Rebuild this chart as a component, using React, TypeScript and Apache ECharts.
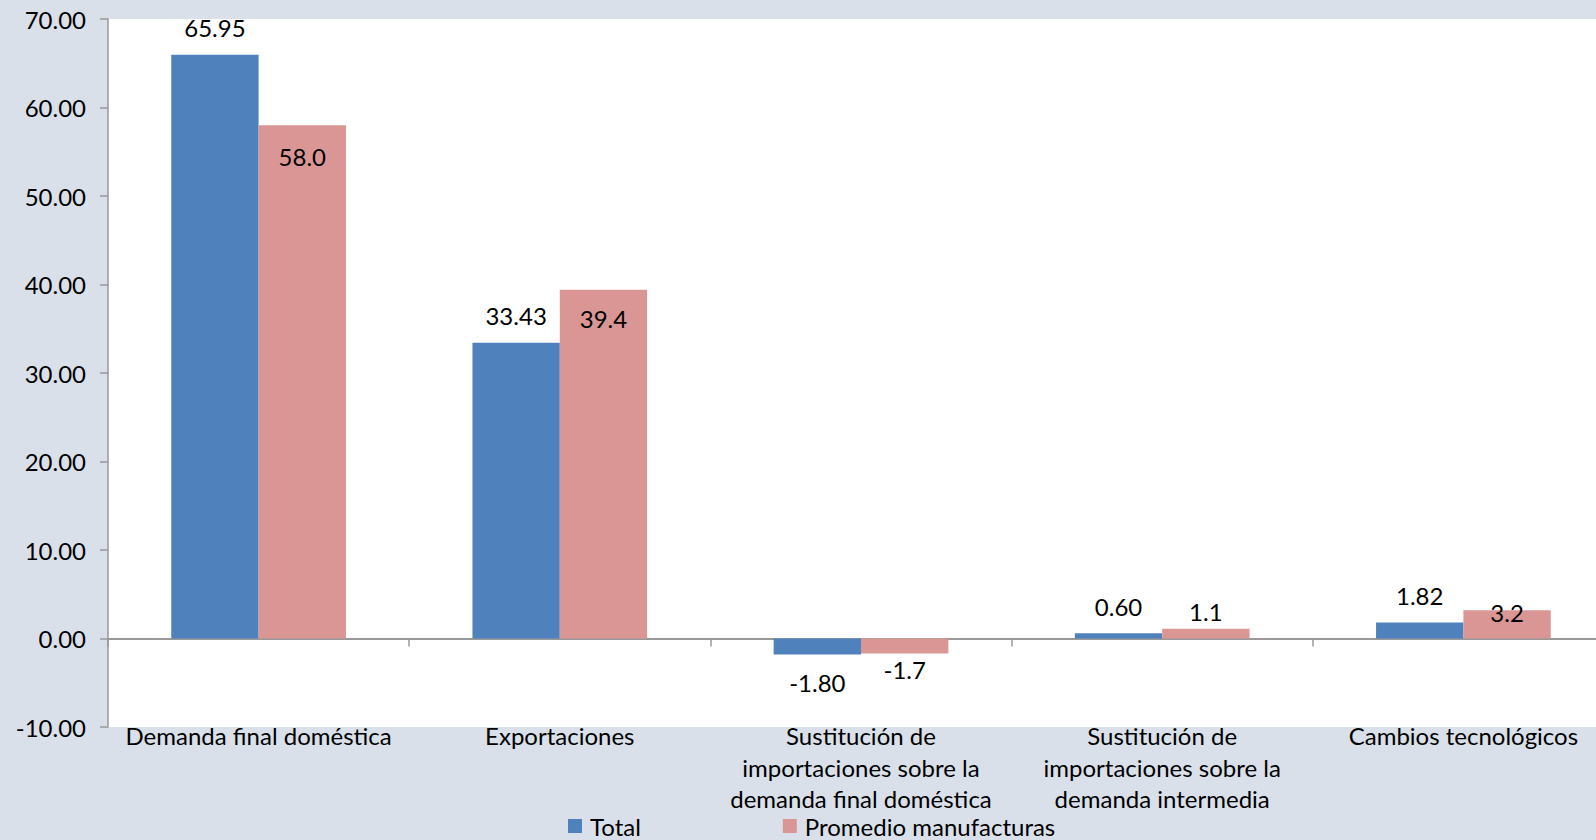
import React, { useEffect, useRef } from "react";
import * as echarts from "echarts";

const categories = [
  "Demanda final doméstica",
  "Exportaciones",
  "Sustitución de\nimportaciones sobre la\ndemanda final doméstica",
  "Sustitución de\nimportaciones sobre la\ndemanda intermedia",
  "Cambios tecnológicos",
];
const totalValues = [65.95, 33.43, -1.8, 0.6, 1.82];
const promedioValues = [58.0, 39.4, -1.7, 1.1, 3.2];
const seriesNames = ["Total", "Promedio manufacturas"];
const yTicks = { min: -10, max: 70, interval: 10 };

const FONT = "Lato";
const FS = 24;
const BLUE = "#4F81BD";
const PINK = "#D99694";
const AXIS = "#999999";

export default function App() {
  const ref = useRef<HTMLDivElement>(null);
  useEffect(() => {
    if (!ref.current) return;
    const chart = echarts.init(ref.current, undefined, { renderer: "svg" });
    const pinkPlacement: any[] = [
      { position: "insideTop", distance: 19 },
      { position: "insideTop", distance: 17 },
      { position: "bottom", distance: 4 },
      { position: "top", distance: 5 },
      { position: "insideTop", distance: -10 },
    ];
    const option: any = {
      animation: false,
      backgroundColor: "#D9E0EA",
      textStyle: { fontFamily: FONT },
      grid: {
        left: 108,
        top: 19,
        width: 1506,
        height: 708,
        outerBoundsMode: "none",
        containLabel: false,
        show: true,
        backgroundColor: "#FFFFFF",
        borderWidth: 0,
      },
      legend: {
        data: seriesNames,
        left: 568,
        top: 814,
        padding: 0,
        icon: "rect",
        itemWidth: 14,
        itemHeight: 14,
        itemGap: 142,
        textStyle: { fontFamily: FONT, fontSize: FS, color: "#000", padding: [0, 0, 0, 3] },
      },
      xAxis: [
        {
          type: "category",
          data: categories,
          position: "bottom",
          axisLine: { show: false, onZero: false },
          axisTick: { show: false },
          axisLabel: {
            interval: 0,
            margin: -7,
            fontFamily: FONT,
            fontSize: FS,
            lineHeight: 31.5,
            color: "#000",
            align: "center",
          },
        },
        {
          type: "category",
          data: categories,
          position: "bottom",
          axisLine: { show: true, onZero: true, lineStyle: { color: AXIS, width: 2 } },
          axisTick: { show: true, inside: false, length: 8, lineStyle: { color: AXIS, width: 1.5 } },
          axisLabel: { show: false },
        },
      ],
      yAxis: {
        type: "value",
        min: yTicks.min,
        max: yTicks.max,
        interval: yTicks.interval,
        axisLine: { show: true, lineStyle: { color: AXIS, width: 1.5 } },
        axisTick: { show: true, length: 8, lineStyle: { color: AXIS, width: 1.5 } },
        splitLine: { show: false },
        axisLabel: {
          margin: 22,
          fontFamily: FONT,
          fontSize: FS,
          color: "#000",
          formatter: (v: number) => v.toFixed(2),
        },
      },
      series: [
        {
          name: seriesNames[0],
          type: "bar",
          xAxisIndex: 0,
          barGap: "0%",
          barCategoryGap: "42%",
          itemStyle: { color: BLUE },
          data: totalValues.map((v) => ({
            value: v,
            label: v >= 0 ? { position: "top", distance: 15 } : { position: "bottom", distance: 16 },
          })),
          label: {
            show: true,
            fontFamily: FONT,
            fontSize: FS,
            color: "#000",
            formatter: (p: any) => Number(p.value).toFixed(2),
          },
        },
        {
          name: seriesNames[1],
          type: "bar",
          xAxisIndex: 0,
          barGap: "0%",
          barCategoryGap: "42%",
          itemStyle: { color: PINK },
          data: promedioValues.map((v, i) => ({ value: v, label: pinkPlacement[i] })),
          label: {
            show: true,
            fontFamily: FONT,
            fontSize: FS,
            color: "#000",
            formatter: (p: any) => Number(p.value).toFixed(1),
          },
        },
      ],
    };
    chart.setOption(option);
    return () => chart.dispose();
  }, []);
  return (
    <div
      ref={ref}
      style={{ position: "fixed", left: 0, top: 0, width: 1596, height: 840 }}
    />
  );
}
